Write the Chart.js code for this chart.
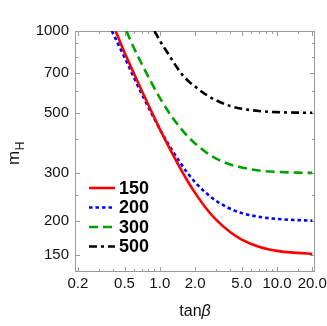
<!DOCTYPE html>
<html>
<head>
<meta charset="utf-8">
<script src="https://cdn.jsdelivr.net/npm/chart.js@4.4.1/dist/chart.umd.min.js"></script>
<style>
  html, body { margin: 0; padding: 0; background: #fff; }
  #wrap { width: 327px; height: 326px; }
</style>
</head>
<body>
<div id="wrap"><canvas id="chart" width="327" height="326"></canvas></div>
<script>
// tick values / labels
const xTicks = [0.2, 0.5, 1, 2, 5, 10, 20];
const xTickLabels = ['0.2', '0.5', '1.0', '2.0', '5.0', '10.0', '20.0'];
const xMinor = [0.3, 0.4, 0.6, 0.7, 0.8, 0.9, 3, 4, 6, 7, 8, 9, 15];
const yTicks = [150, 200, 300, 500, 700, 1000];
const yTickLabels = ['150', '200', '300', '500', '700', '1000'];
const yMinor = [250, 400, 600, 800, 900];

// curves (tanβ, m_H)
const tanB150 = [0.42, 0.5, 0.6, 0.7, 0.85, 1.0, 1.25, 1.5, 1.75, 2.0, 2.5, 3.0, 4.0, 5.0, 7.0, 10, 15, 20];
const mH150   = [1000, 833, 699, 604, 505, 436, 361, 312, 278, 254, 222, 203, 182, 171, 161, 155.5, 152.8, 151.6];
const tanB200 = [0.39, 0.5, 0.6, 0.7, 0.85, 1.0, 1.25, 1.5, 1.75, 2.0, 2.5, 3.0, 4.0, 5.0, 7.0, 10, 15, 20];
const mH200   = [1000, 800, 676, 588, 498, 436, 369, 327, 298, 278, 253, 238, 222, 214, 207.5, 203.7, 201.7, 200.9];
const tanB300 = [0.52, 0.6, 0.7, 0.85, 1.0, 1.25, 1.5, 1.75, 2.0, 2.5, 3.0, 4.0, 5.0, 7.0, 10, 15, 20];
const mH300   = [1000, 868, 758, 645, 568, 488, 440, 408, 386, 357, 340, 323, 315, 307, 303.5, 301.5, 300.8];
const tanB500 = [0.9, 1.0, 1.2, 1.5, 1.75, 2.0, 2.5, 3.0, 4.0, 5.0, 7.0, 10, 15, 20];
const mH500   = [1000, 922, 815, 705, 655, 625, 582, 557, 530, 518, 508, 503, 501, 500.5];

const seriesLabels = ['150', '200', '300', '500'];
const FONT = "'Liberation Sans', Arial, Helvetica, sans-serif";

const series = [
  { label: seriesLabels[0], x: tanB150, y: mH150, color: '#ff0000', dash: [] },
  { label: seriesLabels[1], x: tanB200, y: mH200, color: '#0000ff', dash: [3.5, 3] },
  { label: seriesLabels[2], x: tanB300, y: mH300, color: '#00a000', dash: [9, 5] },
  { label: seriesLabels[3], x: tanB500, y: mH500, color: '#000000', dash: [8, 4, 3, 4] }
];

function toPoints(xs, ys) { return xs.map((v, i) => ({ x: v, y: ys[i] })); }

// frame + inward tick marks, drawn under the curves
const framePlugin = {
  id: 'frame',
  beforeDatasetsDraw(chart) {
    const { ctx, chartArea: a, scales: { x, y } } = chart;
    ctx.save();
    ctx.strokeStyle = '#9a9a9a';
    ctx.lineWidth = 1;
    ctx.strokeRect(a.left + 0.5, a.top + 0.5, a.right - a.left - 1, a.bottom - a.top - 1);
    ctx.beginPath();
    const xt = (v, len) => {
      const px = Math.round(x.getPixelForValue(v)) + 0.5;
      ctx.moveTo(px, a.bottom); ctx.lineTo(px, a.bottom - len);
      ctx.moveTo(px, a.top); ctx.lineTo(px, a.top + len);
    };
    const yt = (v, len) => {
      const py = Math.round(y.getPixelForValue(v)) + 0.5;
      ctx.moveTo(a.left, py); ctx.lineTo(a.left + len, py);
      ctx.moveTo(a.right, py); ctx.lineTo(a.right - len, py);
    };
    xTicks.forEach(v => xt(v, 5));
    xMinor.forEach(v => xt(v, 3));
    yTicks.forEach(v => yt(v, 5));
    yMinor.forEach(v => yt(v, 3));
    ctx.stroke();
    ctx.restore();
  },
  afterDraw(chart) {
    const { ctx, chartArea: a } = chart;
    ctx.save();
    // legend inside the plot, lower left
    chart.data.datasets.forEach((ds, i) => {
      const yy = a.top + 157 + i * 19.5;
      ctx.strokeStyle = ds.borderColor;
      ctx.lineWidth = 2.6;
      ctx.setLineDash(ds.borderDash);
      ctx.beginPath();
      ctx.moveTo(a.left + 14, yy);
      ctx.lineTo(a.left + 40, yy);
      ctx.stroke();
      ctx.setLineDash([]);
      ctx.fillStyle = '#000';
      ctx.font = 'bold 18px ' + FONT;
      ctx.textBaseline = 'middle';
      ctx.textAlign = 'left';
      ctx.fillText(ds.label, a.left + 44, yy + 1);
    });

    // x title: tanβ
    ctx.fillStyle = '#111';
    ctx.textBaseline = 'alphabetic';
    ctx.font = '16px ' + FONT;
    const w1 = ctx.measureText('tan').width;
    ctx.font = 'italic 16px ' + FONT;
    const w2 = ctx.measureText('β').width;
    const cx = (a.left + a.right) / 2;
    let sx = cx - (w1 + w2) / 2;
    ctx.font = '16px ' + FONT;
    ctx.fillText('tan', sx, 316);
    ctx.font = 'italic 16px ' + FONT;
    ctx.fillText('β', sx + w1, 316);

    // y title: m_H rotated
    ctx.translate(19, 165);
    ctx.rotate(-Math.PI / 2);
    ctx.font = '17px ' + FONT;
    ctx.fillText('m', 0, 0);
    const mw = ctx.measureText('m').width;
    ctx.font = '12px ' + FONT;
    ctx.fillText('H', mw + 0.5, 5);
    ctx.restore();
  }
};

const chart = new Chart(document.getElementById('chart'), {
  type: 'line',
  data: {
    datasets: series.map(s => ({
      label: s.label,
      data: toPoints(s.x, s.y),
      borderColor: s.color,
      borderDash: s.dash,
      borderWidth: 2.6,
      borderCapStyle: 'butt',
      pointRadius: 0,
      fill: false,
      cubicInterpolationMode: 'monotone'
    }))
  },
  options: {
    responsive: false,
    animation: false,
    devicePixelRatio: 1,
    layout: { padding: { top: 31, right: 12, left: 0, bottom: 0 } },
    plugins: { legend: { display: false }, tooltip: { enabled: false } },
    scales: {
      x: {
        type: 'logarithmic',
        min: 0.189, max: 21.1,
        grid: { display: false, drawTicks: false },
        border: { display: false },
        ticks: {
          autoSkip: false, maxRotation: 0, padding: 3,
          color: '#111', font: { family: FONT, size: 15 },
          callback: v => { const i = xTicks.indexOf(v); return i >= 0 ? xTickLabels[i] : ''; }
        },
        afterBuildTicks: s => { s.ticks = xTicks.map(v => ({ value: v })); },
        afterFit: s => { s.height = 54; s.paddingLeft = 0; s.paddingRight = 0; }
      },
      y: {
        type: 'logarithmic',
        min: 130, max: 1000,
        grid: { display: false, drawTicks: false },
        border: { display: false },
        ticks: {
          autoSkip: false, padding: 6,
          color: '#111', font: { family: FONT, size: 15 },
          callback: v => { const i = yTicks.indexOf(v); return i >= 0 ? yTickLabels[i] : ''; }
        },
        afterBuildTicks: s => { s.ticks = yTicks.map(v => ({ value: v })); },
        afterFit: s => { s.width = 75; s.paddingTop = 0; s.paddingBottom = 0; }
      }
    }
  },
  plugins: [framePlugin]
});
</script>
</body>
</html>
